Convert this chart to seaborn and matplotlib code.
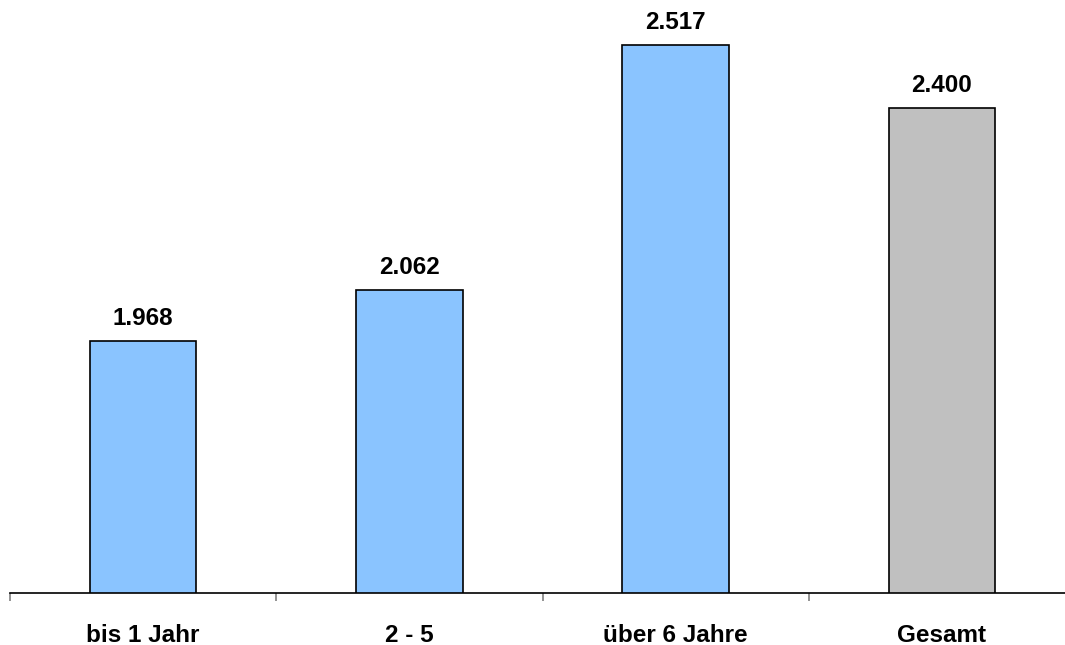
import matplotlib.pyplot as plt
import seaborn as sns
import pandas as pd

categories = ["bis 1 Jahr", "2 - 5", "über 6 Jahre", "Gesamt"]
values = [1968, 2062, 2517, 2400]
colors = ["#8AC4FF", "#8AC4FF", "#8AC4FF", "#C0C0C0"]

df = pd.DataFrame({"cat": categories, "val": values})

sns.set_theme(style="white")
plt.rcParams["font.family"] = ["Liberation Sans", "DejaVu Sans"]

fig = plt.figure(figsize=(10.65, 6.45), dpi=100)
ax = fig.add_axes([10 / 1065, 52 / 645, 1065 / 1065, 593 / 645])
sns.barplot(data=df, x="cat", y="val", hue="cat", palette=colors, width=0.4,
            saturation=1, edgecolor="black", linewidth=1.2, legend=False, ax=ax)
ax.set_ylim(1500, 2600)
ax.set_xlim(-0.5, 3.5)

for c in ax.containers:
    ax.bar_label(c, labels=[f"{int(round(v)):,}".replace(",", ".") for v in c.datavalues],
                 padding=8, fontsize=17.5, fontweight="bold", color="black")

for s in ["top", "right", "left"]:
    ax.spines[s].set_visible(False)
ax.spines["bottom"].set_color("black")
ax.spines["bottom"].set_linewidth(1.2)
ax.set_yticks([])
ax.set_xlabel("")
ax.set_ylabel("")
ax.set_xticks(range(4))
ax.set_xticklabels(categories, fontsize=17.5, fontweight="bold", color="black")
ax.tick_params(axis="x", which="major", length=0, pad=22)
ax.set_xticks([-0.5, 0.5, 1.5, 2.5, 3.5], minor=True)
ax.tick_params(axis="x", which="minor", bottom=True, length=6, color="gray", width=1.2, direction="out")

fig.savefig("out.png", dpi=100)
